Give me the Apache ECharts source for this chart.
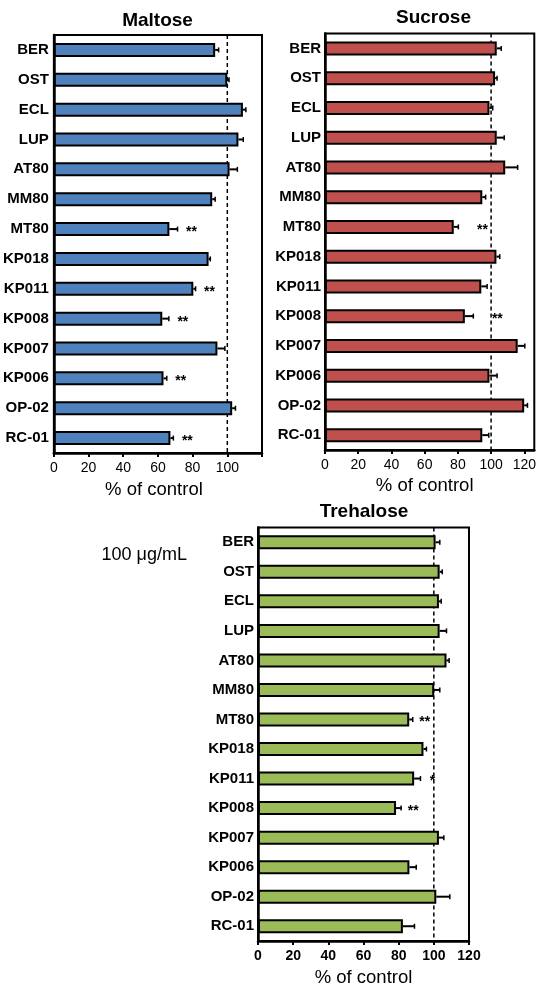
<!DOCTYPE html>
<html>
<head>
<meta charset="utf-8">
<script src="https://cdn.jsdelivr.net/npm/echarts@6/dist/echarts.min.js"></script>
<style>
html,body{margin:0;padding:0;background:#fff;}
#chart{width:539px;height:988px;}
</style>
</head>
<body>
<div id="chart"></div>
<script>
// ---------- DATA ----------
var categories = ['BER','OST','ECL','LUP','AT80','MM80','MT80','KP018','KP011','KP008','KP007','KP006','OP-02','RC-01'];

var maltose    = [93, 100, 109, 106.4, 101.3, 91.3, 66.6, 89.2, 80.4, 62.5, 94.3, 63.2, 102.8, 67.2];
var maltoseErr = [2, 1, 1.7, 2.8, 4.5, 1.7, 4.7, 1, 1.3, 3.8, 4.3, 1.9, 1.9, 1.7];
var maltoseSig = ['', '', '', '', '', '', '**', '', '**', '**', '', '**', '', '**'];

var sucrose    = [103.4, 102.4, 99, 103.4, 108.5, 94.7, 77.5, 103.2, 94.1, 84.2, 116, 99, 119.9, 94.7];
var sucroseErr = [2.7, 1.2, 2, 4.5, 7.5, 2, 2.8, 2, 3.5, 5.1, 4.3, 4.6, 2, 3.9];
var sucroseSig = ['', '', '', '', '', '', '**', '', '', '**', '', '', '', ''];

var trehalose    = [101, 103.3, 102.9, 103.3, 107.2, 100.2, 86, 94.1, 88.8, 78.5, 102.9, 86.1, 101.4, 82.4];
var trehaloseErr = [2.4, 1.5, 1.3, 3.9, 1.5, 3.2, 2, 1.7, 3.6, 2.9, 2.8, 3.9, 7.7, 6.6];
var trehaloseSig = ['', '', '', '', '', '', '**', '', '*', '**', '', '', '', ''];

var xTicks = [0, 20, 40, 60, 80, 100, 120];
var maltoseTickLabels = [0, 20, 40, 60, 80, 100];
var controlValue = 100;

var panelTitles = ['Maltose', 'Sucrose', 'Trehalose'];
var axisTitle = '% of control';
var concLabel = '100 \u03bcg/mL';

// ---------- CHART ----------
var FONT = '"Liberation Sans", Arial, Helvetica, sans-serif';
var chart = echarts.init(document.getElementById('chart'), null, {renderer: 'canvas'});

var panels = [
  {vals: maltose, err: maltoseErr, sig: maltoseSig, color: '#4F81BD', max: 120,
   grid: {left: 51, top: 35, width: 211, height: 418}, labels: maltoseTickLabels,
   labelMargin: 5, sigOffset: 14, namePad: [0, 8, 0, 0], nameGap: 27, tickBold: false},
  {vals: sucrose, err: sucroseErr, sig: sucroseSig, color: '#C0504D', max: 126,
   grid: {left: 325, top: 33.5, width: 212.5, height: 416.5}, labels: xTicks,
   labelMargin: 4, sigOffset: 24, namePad: [0, 10, 0, 0], nameGap: 26, tickBold: false},
  {vals: trehalose, err: trehaloseErr, sig: trehaloseSig, color: '#9BBB59', max: 120,
   grid: {left: 258, top: 527.5, width: 211, height: 416.5}, labels: xTicks,
   labelMargin: 4, sigOffset: 12, namePad: [0, 0, 0, 0], nameGap: 27, tickBold: true}
];

var grids = [], xAxes = [], yAxes = [], series = [];

panels.forEach(function (p, i) {
  grids.push({
    left: p.grid.left, top: p.grid.top, width: p.grid.width, height: p.grid.height,
    show: true, borderColor: '#000', borderWidth: 2, backgroundColor: 'transparent'
  });
  xAxes.push({
    type: 'value', gridIndex: i, min: 0, max: p.max, interval: 20,
    splitLine: {show: false},
    axisLine: {show: true, onZero: false, lineStyle: {color: '#000', width: 2.5}},
    axisTick: {show: true, inside: false, length: 4, lineStyle: {color: '#000', width: 2}, customValues: xTicks},
    axisLabel: {show: true, margin: 8, color: '#000', fontSize: 14, fontFamily: FONT,
                fontWeight: p.tickBold ? 'bold' : 'normal', customValues: p.labels},
    name: axisTitle, nameLocation: 'middle', nameGap: p.nameGap,
    nameTextStyle: {color: '#000', fontSize: 18.5, fontFamily: FONT, padding: p.namePad}
  });
  yAxes.push({
    type: 'category', gridIndex: i, data: categories, inverse: true,
    axisLine: {show: true, lineStyle: {color: '#000', width: 2.5}},
    axisTick: {show: false},
    splitLine: {show: false},
    axisLabel: {margin: p.labelMargin, color: '#000', fontSize: 15, fontWeight: 'bold', fontFamily: FONT}
  });

  // dashed reference line at 100 %
  series.push({
    type: 'custom', xAxisIndex: i, yAxisIndex: i, z: 1, silent: true,
    data: [[controlValue, 0]],
    encode: {x: 0, y: 1},
    renderItem: function (params, api) {
      var cs = params.coordSys;
      var x = api.coord([api.value(0), 0])[0];
      return {
        type: 'line',
        shape: {x1: x, y1: cs.y, x2: x, y2: cs.y + cs.height},
        style: {stroke: '#000', lineWidth: 1.5, lineDash: [4, 3]}
      };
    }
  });

  series.push({
    type: 'bar', xAxisIndex: i, yAxisIndex: i, z: 3,
    data: p.vals, barWidth: 14,
    itemStyle: {color: p.color, borderColor: '#000', borderWidth: 2},
    silent: true
  });

  (function (p) {
    series.push({
      type: 'custom', xAxisIndex: i, yAxisIndex: i, z: 4, silent: true,
      data: p.vals.map(function (v, k) { return [v, k, p.err[k]]; }),
      encode: {x: 0, y: 1},
      renderItem: function (params, api) {
        var v = api.value(0), c = api.value(1), e = api.value(2);
        var p0 = api.coord([v, c]);
        var p1 = api.coord([v + e, c]);
        var cap = 2.5;
        var children = [
          {type: 'line', shape: {x1: p0[0], y1: p0[1], x2: p1[0], y2: p1[1]},
           style: {stroke: '#000', lineWidth: 2}},
          {type: 'line', shape: {x1: p1[0], y1: p1[1] - cap, x2: p1[0], y2: p1[1] + cap},
           style: {stroke: '#000', lineWidth: 1.5}}
        ];
        var s = p.sig[params.dataIndex];
        if (s) {
          children.push({type: 'text', style: {
            text: s, x: p1[0] + p.sigOffset, y: p1[1] + 3,
            fill: '#000', fontSize: 14, fontWeight: 'bold', fontFamily: FONT,
            align: 'center', verticalAlign: 'middle'
          }});
        }
        return {type: 'group', children: children};
      }
    });
  })(p);
});

var titlePos = [[157.5, 21], [433.5, 17.5], [364, 512]];
var graphics = panelTitles.map(function (t, i) {
  return {type: 'text', x: titlePos[i][0], y: titlePos[i][1],
    style: {text: t, fill: '#000', fontSize: 19, fontWeight: 'bold', fontFamily: FONT,
            align: 'center', verticalAlign: 'middle'}};
});
graphics.push({type: 'text', x: 101.5, y: 555,
  style: {text: concLabel, fill: '#000', fontSize: 18, fontFamily: FONT, align: 'left', verticalAlign: 'middle'}});

chart.setOption({
  animation: false,
  backgroundColor: '#fff',
  grid: grids,
  xAxis: xAxes,
  yAxis: yAxes,
  series: series,
  graphic: graphics
});
</script>
</body>
</html>
